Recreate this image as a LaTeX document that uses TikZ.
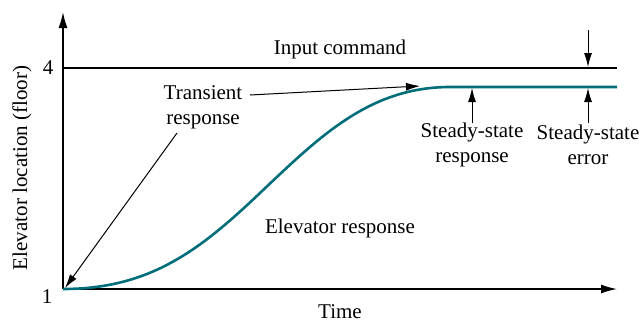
\documentclass[tikz,border=0pt]{standalone}
\usepackage{fontspec}
\setmainfont{Liberation Serif}
\newfontfamily\lblfont{Liberation Serif}
\usetikzlibrary{arrows.meta}
\definecolor{respteal}{RGB}{0,110,122}
\tikzset{
    lbl/.style={inner sep=0pt, align=center, font=\lblfont\fontsize{10.5}{12.5}\selectfont},
    axis/.style={line width=0.75pt, -{Latex[length=8pt,width=4.5pt]}},
    pointer/.style={line width=0.5pt, -{Latex[length=7pt,width=4pt]}}
}
\begin{document}
\begin{tikzpicture}[x=0.5pt,y=-0.5pt]
        \useasboundingbox (0,0) rectangle (640,322);
        % Axes
        \coordinate (O) at (63,289);
        \coordinate (ytop) at (63,12);
        \coordinate (xend) at (617,289);
        \draw[axis] (O) -- (ytop);
        \draw[axis] (O) -- (xend);
        \node[lbl] (one) at (47,297) {1};
        \node[lbl] (four) at (48,68) {4};
        \node[lbl] (time) at (340,312) {Time};
        \node[lbl, rotate=90] (ylab) at (22,168) {Elevator location (floor)};
        % Input command
        \coordinate (in0) at (63,68);
        \coordinate (in1) at (617,68);
        \draw[line width=0.6pt] (in0) -- (in1);
        \node[lbl] (input) at (340,49) {Input command};
        % Response
        \coordinate (mid) at (260,193);
        \coordinate (top) at (450,87);
        \coordinate (rend) at (617,87);
        \draw[respteal, line width=1.3pt] (O) .. controls (150,289) and (200,250) .. (mid)
            .. controls (320,136) and (370,87) .. (top) -- (rend);
        \node[lbl] (resp) at (340,228) {Elevator response};
        % Transient
        \node[lbl] (trans) at (203,107) {Transient\\response};
        \coordinate (t1a) at (250,95);
        \coordinate (t1b) at (420,86);
        \coordinate (t2a) at (177,133);
        \coordinate (t2b) at (65,288);
        \draw[pointer] (t1a) -- (t1b);
        \draw[pointer] (t2a) -- (t2b);
        % Steady-state response
        \node[lbl] (ssr) at (472,145) {Steady-state\\response};
        \coordinate (ssra) at (472,123);
        \coordinate (ssrb) at (472,88);
        \draw[pointer] (ssra) -- (ssrb);
        % Steady-state error
        \node[lbl] (sse) at (588,145) {Steady-state\\error};
        \coordinate (ssea) at (588,30);
        \coordinate (sseb) at (588,67);
        \coordinate (ssec) at (588,123);
        \coordinate (ssed) at (588,88);
        \draw[pointer] (ssea) -- (sseb);
        \draw[pointer] (ssec) -- (ssed);
\end{tikzpicture}
\end{document}
